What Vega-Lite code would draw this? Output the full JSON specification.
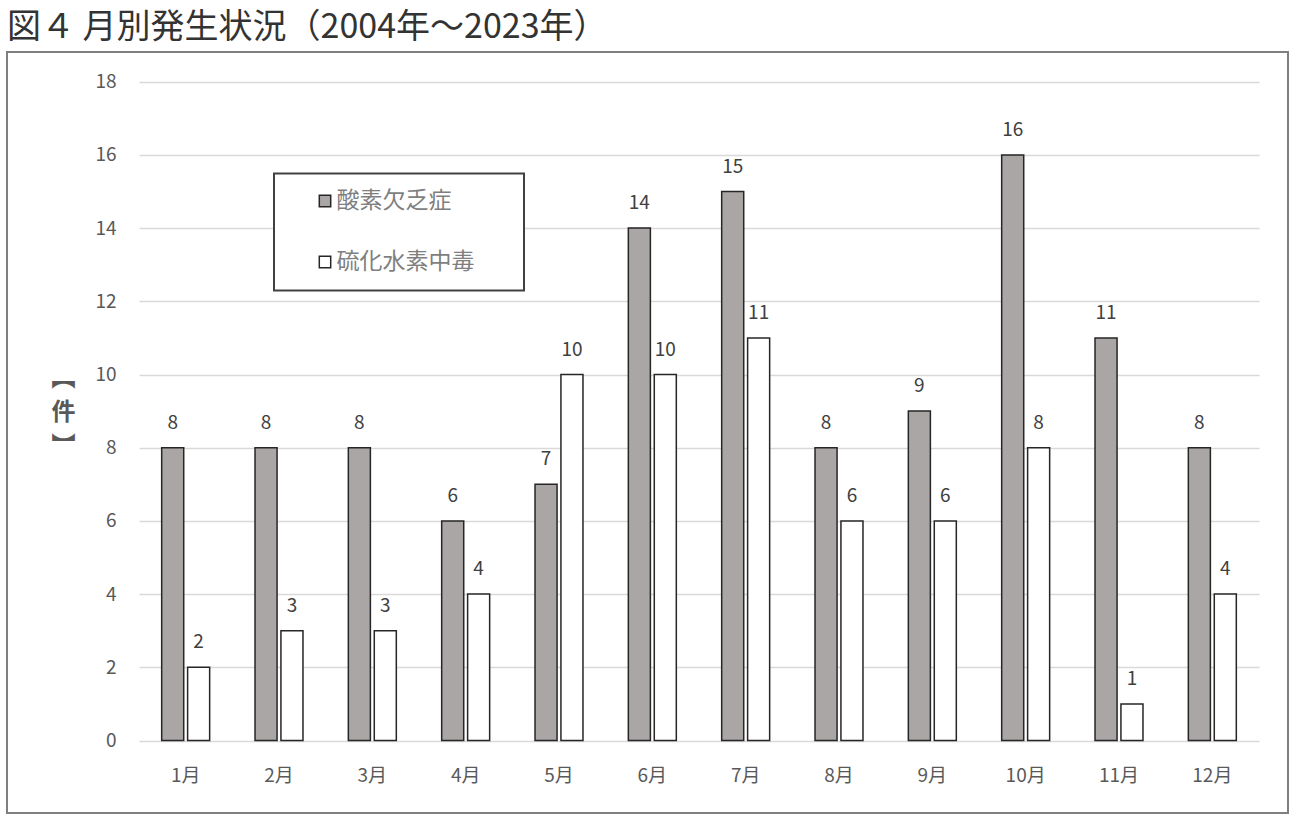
{
  "$schema": "https://vega.github.io/schema/vega-lite/v6.json",
  "width": 1281,
  "height": 761,
  "autosize": {"type": "none"},
  "padding": {"left": 7, "top": 52, "right": 10, "bottom": 13},
  "background": "white",
  "title": {
    "text": "図４ 月別発生状況（2004年～2023年）",
    "anchor": "start",
    "frame": "group",
    "fontSize": 34,
    "fontWeight": "normal",
    "color": "#333333",
    "baseline": "alphabetic",
    "offset": -20
  },
  "data": {
    "values": [
      {"month": "1月", "kind": "酸素欠乏症", "count": 8},
      {"month": "2月", "kind": "酸素欠乏症", "count": 8},
      {"month": "3月", "kind": "酸素欠乏症", "count": 8},
      {"month": "4月", "kind": "酸素欠乏症", "count": 6},
      {"month": "5月", "kind": "酸素欠乏症", "count": 7},
      {"month": "6月", "kind": "酸素欠乏症", "count": 14},
      {"month": "7月", "kind": "酸素欠乏症", "count": 15},
      {"month": "8月", "kind": "酸素欠乏症", "count": 8},
      {"month": "9月", "kind": "酸素欠乏症", "count": 9},
      {"month": "10月", "kind": "酸素欠乏症", "count": 16},
      {"month": "11月", "kind": "酸素欠乏症", "count": 11},
      {"month": "12月", "kind": "酸素欠乏症", "count": 8},
      {"month": "1月", "kind": "硫化水素中毒", "count": 2},
      {"month": "2月", "kind": "硫化水素中毒", "count": 3},
      {"month": "3月", "kind": "硫化水素中毒", "count": 3},
      {"month": "4月", "kind": "硫化水素中毒", "count": 4},
      {"month": "5月", "kind": "硫化水素中毒", "count": 10},
      {"month": "6月", "kind": "硫化水素中毒", "count": 10},
      {"month": "7月", "kind": "硫化水素中毒", "count": 11},
      {"month": "8月", "kind": "硫化水素中毒", "count": 6},
      {"month": "9月", "kind": "硫化水素中毒", "count": 6},
      {"month": "10月", "kind": "硫化水素中毒", "count": 8},
      {"month": "11月", "kind": "硫化水素中毒", "count": 1},
      {"month": "12月", "kind": "硫化水素中毒", "count": 4}
    ]
  },
  "encoding": {
    "x": {
      "field": "month",
      "type": "nominal",
      "sort": ["1月", "2月", "3月", "4月", "5月", "6月", "7月", "8月", "9月", "10月", "11月", "12月"],
      "scale": {"range": [132, 1252], "paddingInner": 0.486, "paddingOuter": 0.243},
      "axis": {
        "title": null,
        "offset": -72.5,
        "domain": false,
        "ticks": false,
        "tickSize": 0,
        "grid": false,
        "labelPadding": 35,
        "labelBaseline": "middle",
        "labelAngle": 0,
        "labelFontSize": 19,
        "labelColor": "#595959"
      }
    },
    "xOffset": {
      "field": "kind",
      "type": "nominal",
      "sort": ["酸素欠乏症", "硫化水素中毒"],
      "scale": {"paddingInner": 0.15, "paddingOuter": 0}
    },
    "y": {
      "field": "count",
      "type": "quantitative",
      "scale": {"domain": [0, 18], "range": [688.5, 29.7], "nice": false, "zero": true},
      "axis": {
        "title": ["︻", "件", "︼"],
        "titleAngle": 0,
        "titleX": -76,
        "titleY": 326,
        "titleAlign": "center",
        "titleBaseline": "middle",
        "titleFontSize": 24,
        "titleFontWeight": "bold",
        "titleColor": "#595959",
        "titleLineHeight": 34,
        "offset": -132,
        "domain": false,
        "ticks": false,
        "tickSize": 0,
        "values": [0, 2, 4, 6, 8, 10, 12, 14, 16, 18],
        "labelPadding": 23,
        "labelFontSize": 19,
        "labelColor": "#595959",
        "gridColor": "#d9d9d9",
        "gridWidth": 1.5
      }
    }
  },
  "layer": [
    {
      "mark": {"type": "bar", "stroke": "#262626", "strokeWidth": 1.5},
      "encoding": {
        "color": {
          "field": "kind",
          "type": "nominal",
          "scale": {"domain": ["酸素欠乏症", "硫化水素中毒"], "range": ["#aaa6a6", "#ffffff"]},
          "legend": {
            "title": "　",
            "titleOrient": "right",
            "titleFontSize": 23,
            "titlePadding": 33,
            "orient": "none",
            "legendX": 267,
            "legendY": 121.5,
            "padding": 16,
            "symbolType": "square",
            "symbolSize": 130,
            "symbolStrokeColor": "#262626",
            "symbolStrokeWidth": 1.5,
            "symbolOffset": 23.5,
            "labelOffset": 0,
            "labelFontSize": 23,
            "labelColor": "#7f7f7f",
            "rowPadding": 37,
            "strokeColor": "#404040",
            "fillColor": "white"
          }
        }
      }
    },
    {
      "mark": {"type": "text", "dy": -25, "baseline": "middle", "fontSize": 19, "color": "#404040"},
      "encoding": {"text": {"field": "count", "type": "quantitative"}}
    }
  ],
  "config": {
    "font": "Noto Sans CJK JP",
    "view": {"stroke": "#7f7f7f", "strokeWidth": 2},
    "legend": {"strokeWidth": 2}
  }
}
